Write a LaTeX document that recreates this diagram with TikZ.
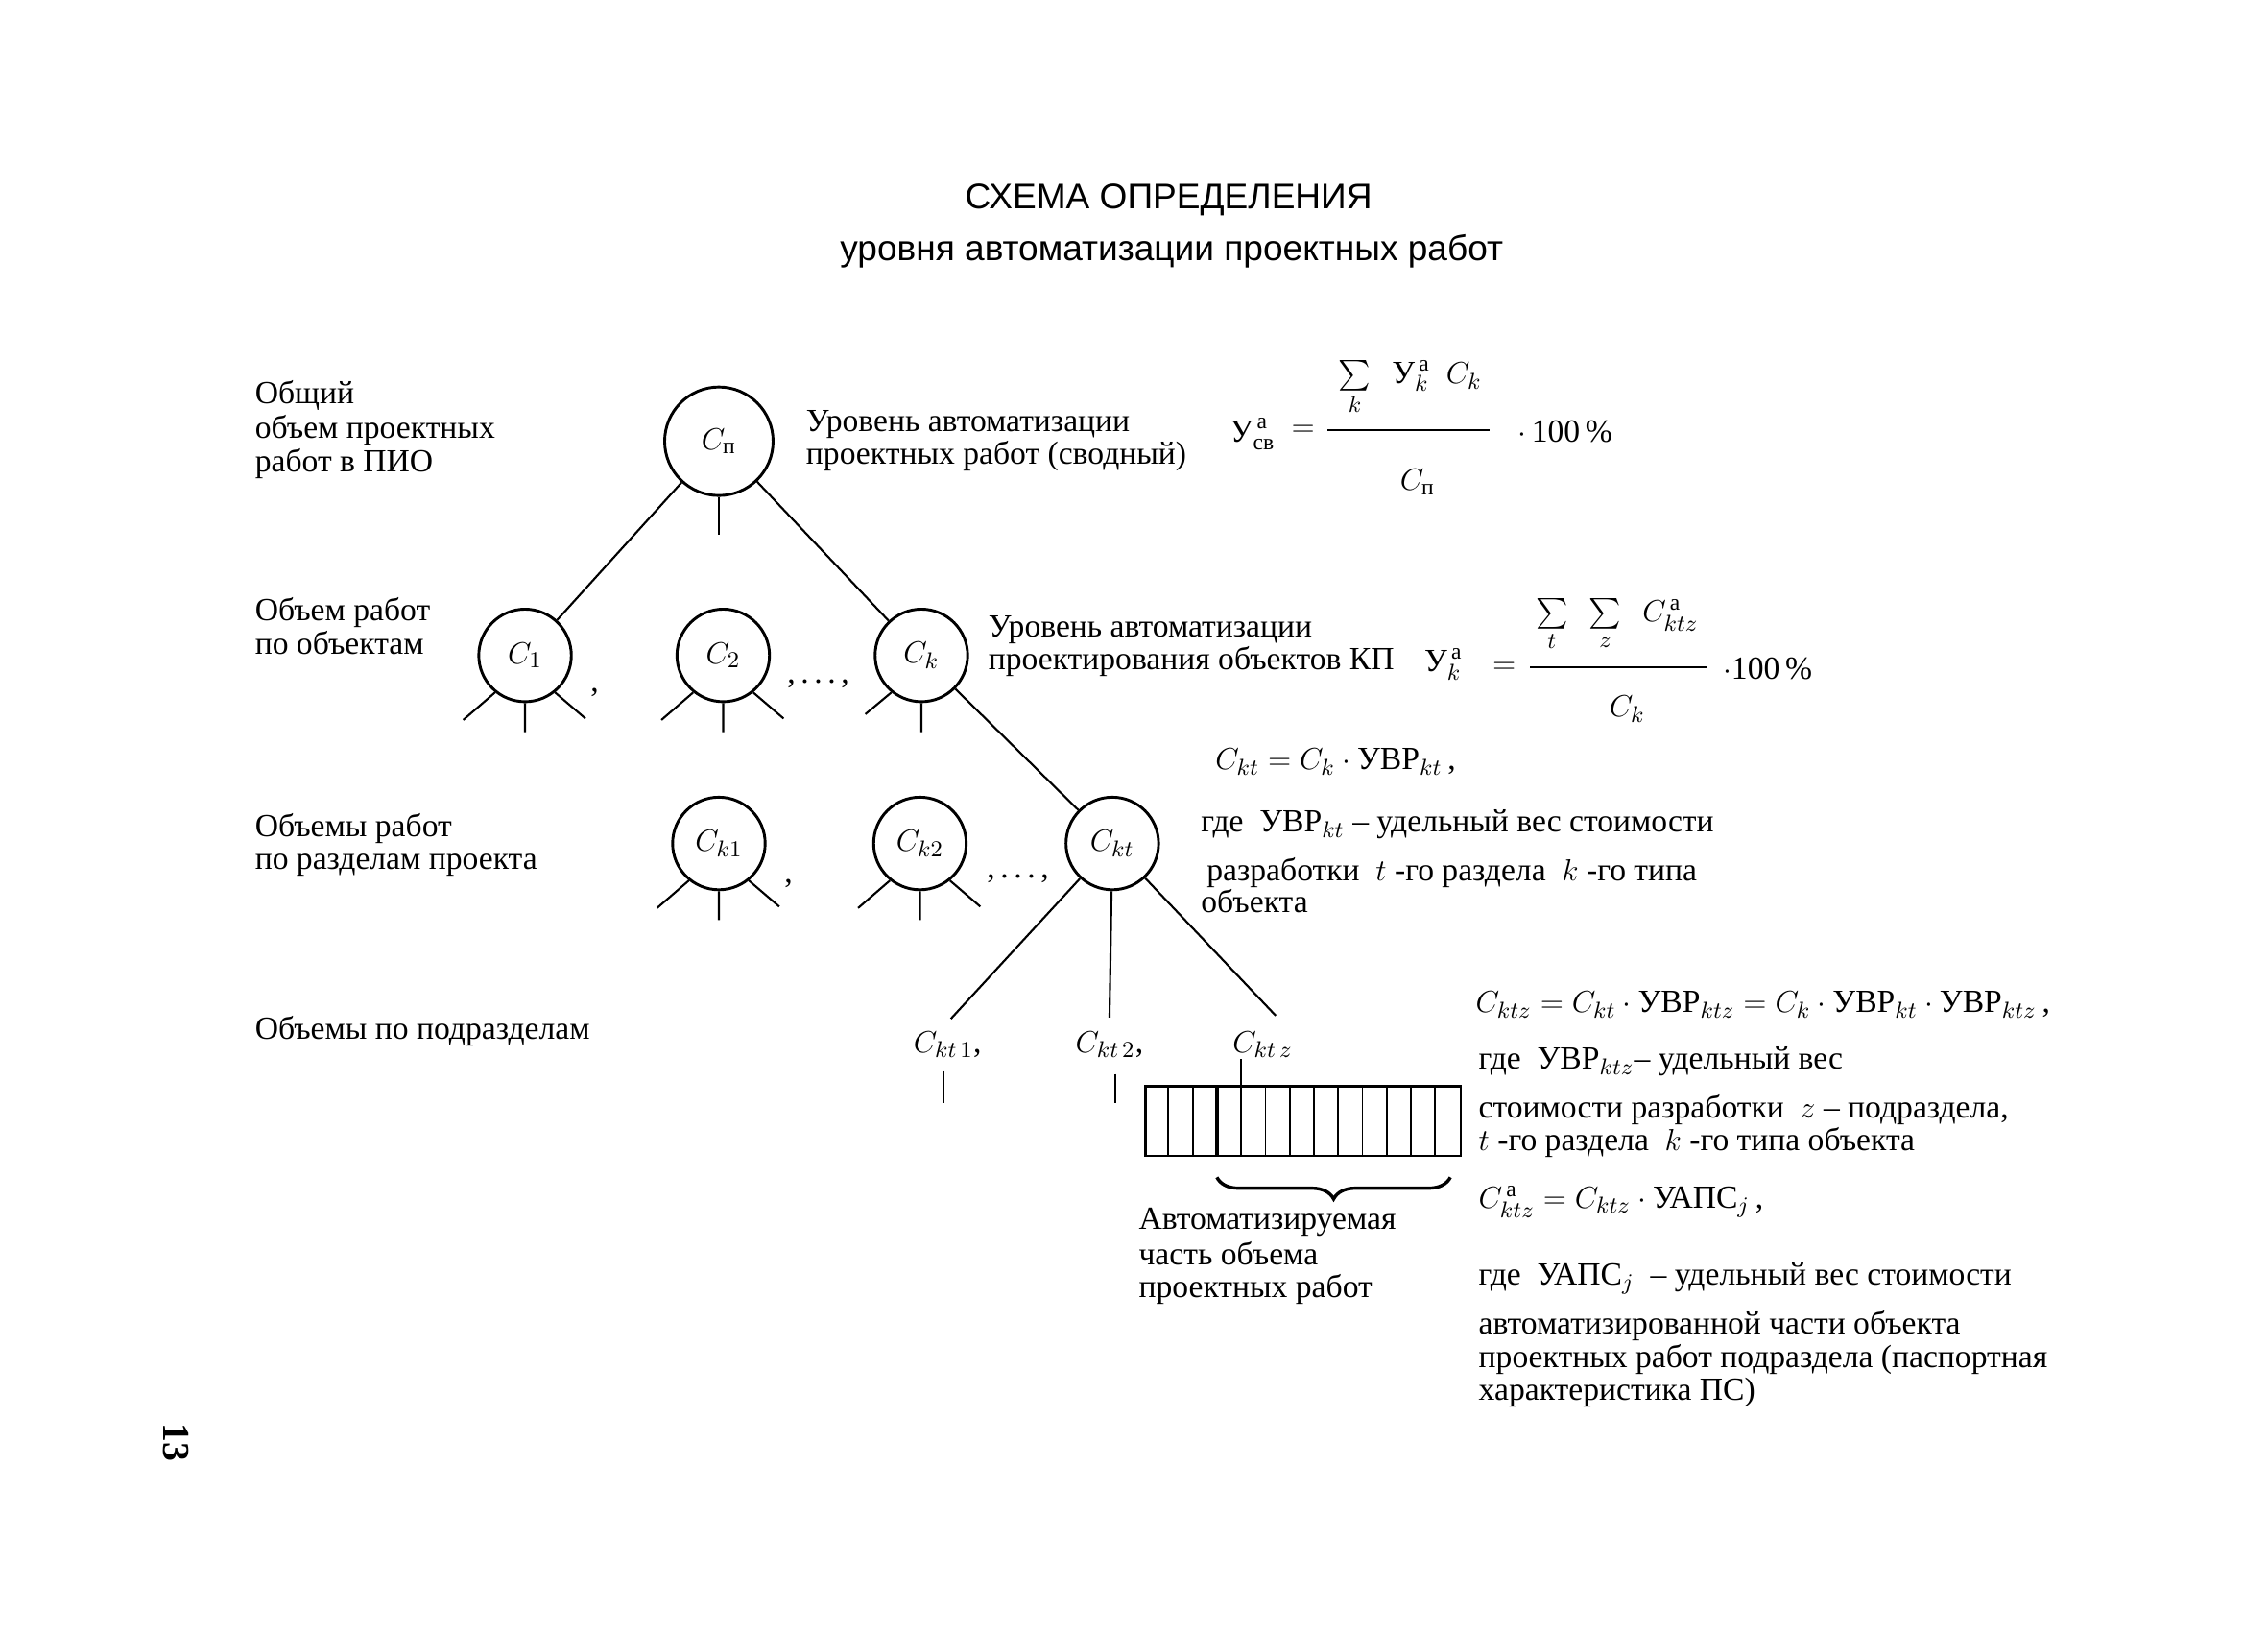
\documentclass[tikz,border=0pt]{standalone}
\usepackage{amsmath}
\usepackage{fontspec}
\setmainfont{Liberation Serif}
\newfontfamily\titlefont{Liberation Sans}
\usetikzlibrary{calc, decorations.pathreplacing}

\begin{document}
\begin{tikzpicture}[
  x=0.02cm, y=-0.02cm,
  every node/.style={font=\fontsize{12.7}{14}\selectfont},
  obj/.style={circle, draw, line width=1.1pt, minimum size=1.28cm, inner sep=0pt},
  topobj/.style={obj, minimum size=1.5cm},
  txt/.style={anchor=base west, inner sep=0pt},
  frm/.style={inner sep=0pt},
  ttl/.style={font=\titlefont\fontsize{14}{16}\selectfont},
  edge/.style={line width=0.8pt},
]
  \useasboundingbox (0,0) rectangle (1568,1129);

  % title
  \node[ttl] (title1) at (808,138) {СХЕМА ОПРЕДЕЛЕНИЯ};
  \node[ttl] (title2) at (810,174) {уровня автоматизации проектных работ};

  % level labels
  \node[txt] (lv1a) at (176,279) {Общий};
  \node[txt] (lv1b) at (176,303) {объем проектных};
  \node[txt] (lv1c) at (176,326) {работ в ПИО};
  \node[txt] (lv2a) at (176,429) {Объем работ};
  \node[txt] (lv2b) at (176,452) {по объектам};
  \node[txt] (lv3a) at (176,578) {Объемы работ};
  \node[txt] (lv3b) at (176,601) {по разделам проекта};
  \node[txt] (lv4a) at (176,718) {Объемы по подразделам};

  % tree
  \node[topobj] (cp) at (497,305) {$C_{\text{п}}$};
  \node[obj] (c1) at (363,453) {$C_1$};
  \node[obj] (c2) at (500,453) {$C_2$};
  \node[obj] (ck) at (637,453) {$C_k$};
  \node[obj] (ck1) at (497,583) {$C_{k1}$};
  \node[obj] (ck2) at (636,583) {$C_{k2}$};
  \node[obj] (ckt) at (769,583) {$C_{kt}$};

  \node[txt] (sep1) at (408,478) {,};
  \node[txt] (sep2) at (544,472) {,\,.\,.\,.\,,};
  \node[txt] (sep3) at (542,610) {,};
  \node[txt] (sep4) at (682,607) {,\,.\,.\,.\,,};

  \draw[edge] (cp) -- (c1);
  \draw[edge] (cp) -- (ck);
  \draw[edge] (cp.south) -- ++(0,26);
  \draw[edge] (ck) -- (ckt);
  \foreach \n in {c1,c2,ck1,ck2}
    \draw[edge] (\n.-129) -- ++(-22,19) (\n.south) -- ++(0,20) (\n.-51) -- ++(21,18);
  \draw[edge] (ck.-129) -- ++(-18,15) (ck.south) -- ++(0,20);

  % subsections
  \node (ckt1) at (655,722) {$C_{kt\,1}$,};
  \node (ckt2) at (767,722) {$C_{kt\,2}$,};
  \node (cktz) at (873,722) {$C_{kt\,z}$};
  \coordinate (zend) at (882,702);
  \draw[edge, shorten >=2pt] (ckt) -- (ckt1.north);
  \draw[edge, shorten >=2pt] (ckt) -- (ckt2.north);
  \draw[edge] (ckt) -- (zend);
  \draw[edge] ($(ckt1.south)+(-3,3)$) -- ++(0,22);
  \draw[edge] ($(ckt2.south)+(4,5)$) -- ++(0,20);

  % bar of subsections
  \node[draw, line width=1pt, anchor=north west, inner sep=0pt,
    minimum width=4.36cm, minimum height=0.96cm] (bar) at (791,750) {};
  \foreach \i in {1,...,12}
    \draw[line width=0.7pt] ($(bar.north west)+(\i*16.77,0)$) -- ++(0,48);
  \draw[line width=1.3pt] ($(bar.north west)+(3*16.77,0)$) -- ++(0,48);
  \draw[edge] ($(bar.north west)+(4*16.77,-18)$) -- ++(0,18);
  \draw[decorate, decoration={brace, mirror, amplitude=0.3cm}, line width=1.3pt]
    ($(bar.south west)+(3*16.77,14)$) -- ($(bar.south east)+(-8,14)$);
  \node[txt] (auto1) at (787,850) {Автоматизируемая};
  \node[txt] (auto2) at (787,874) {часть объема};
  \node[txt] (auto3) at (787,897) {проектных работ};

  % summary level
  \node[txt] (r1a) at (557,298) {Уровень автоматизации};
  \node[txt] (r1b) at (557,321) {проектных работ (сводный)};
  \node[frm] (f1lhs) at (866,300) {$\text{У}^{\,\text{а}}_{\text{св}}$};
  \node[frm] (f1eq) at (901,298) {$=$};
  \node[frm] (f1num) at (975,268) {$\sum\limits_k\ \ \text{У}^{\,\text{а}}_k\ \ C_k$};
  \draw[line width=0.8pt] (918,297) -- (1030,297);
  \node[frm] (f1den) at (980,333) {$C_{\text{п}}$};
  \node[frm] (f1pct) at (1082,298) {$\cdot$\,100\,\%};

  % object level
  \node[txt] (r2a) at (683,440) {Уровень автоматизации};
  \node[txt] (r2b) at (683,463) {проектирования объектов КП};
  \node[frm] (f2lhs) at (998,459) {$\text{У}^{\,\text{а}}_k$};
  \node[frm] (f2eq) at (1040,462) {$=$};
  \node[frm] (f2num) at (1118,432) {$\sum\limits_t\ \ \sum\limits_z\ \ C^{\,\text{а}}_{ktz}$};
  \draw[line width=0.8pt] (1058,461) -- (1180,461);
  \node[frm] (f2den) at (1125,490) {$C_k$};
  \node[frm] (f2pct) at (1222,462) {$\cdot$100\,\%};

  % section level
  \node[txt] (r3a) at (840,532) {$C_{kt} = C_k\cdot\text{УВР}_{kt}$\,,};
  \node[txt] (r3b) at (830,575) {где\ \ $\text{УВР}_{kt}$ -- удельный вес стоимости};
  \node[txt] (r3c) at (834,609) {разработки\ \ $t$ -го раздела\ \ $k$ -го типа};
  \node[txt] (r3d) at (830,631) {объекта};

  % subsection level
  \node[txt] (r4a) at (1020,700) {$C_{ktz} = C_{kt}\cdot\text{УВР}_{ktz} = C_k\cdot\text{УВР}_{kt}\cdot\text{УВР}_{ktz}$\,,};
  \node[txt] (r4b) at (1022,739) {где\ \ $\text{УВР}_{ktz}$-- удельный вес};
  \node[txt] (r4c) at (1022,773) {стоимости разработки\ \ $z$ -- подраздела,};
  \node[txt] (r4d) at (1022,795) {$t$ -го раздела\ \ $k$ -го типа объекта};
  \node[txt] (r4e) at (1022,835) {$C^{\,\text{а}}_{ktz} = C_{ktz}\cdot\text{УАПС}_j$\,,};
  \node[txt] (r4f) at (1022,888) {где\ \ $\text{УАПС}_j$\ \ -- удельный вес стоимости};
  \node[txt] (r4g) at (1022,922) {автоматизированной части объекта};
  \node[txt] (r4h) at (1022,945) {проектных работ подраздела (паспортная};
  \node[txt] (r4i) at (1022,968) {характеристика ПС)};

  % page number
  \node[rotate=-90, font=\fontsize{15}{15}\selectfont\bfseries] (pgnum) at (122,997) {13};
\end{tikzpicture}
\end{document}
